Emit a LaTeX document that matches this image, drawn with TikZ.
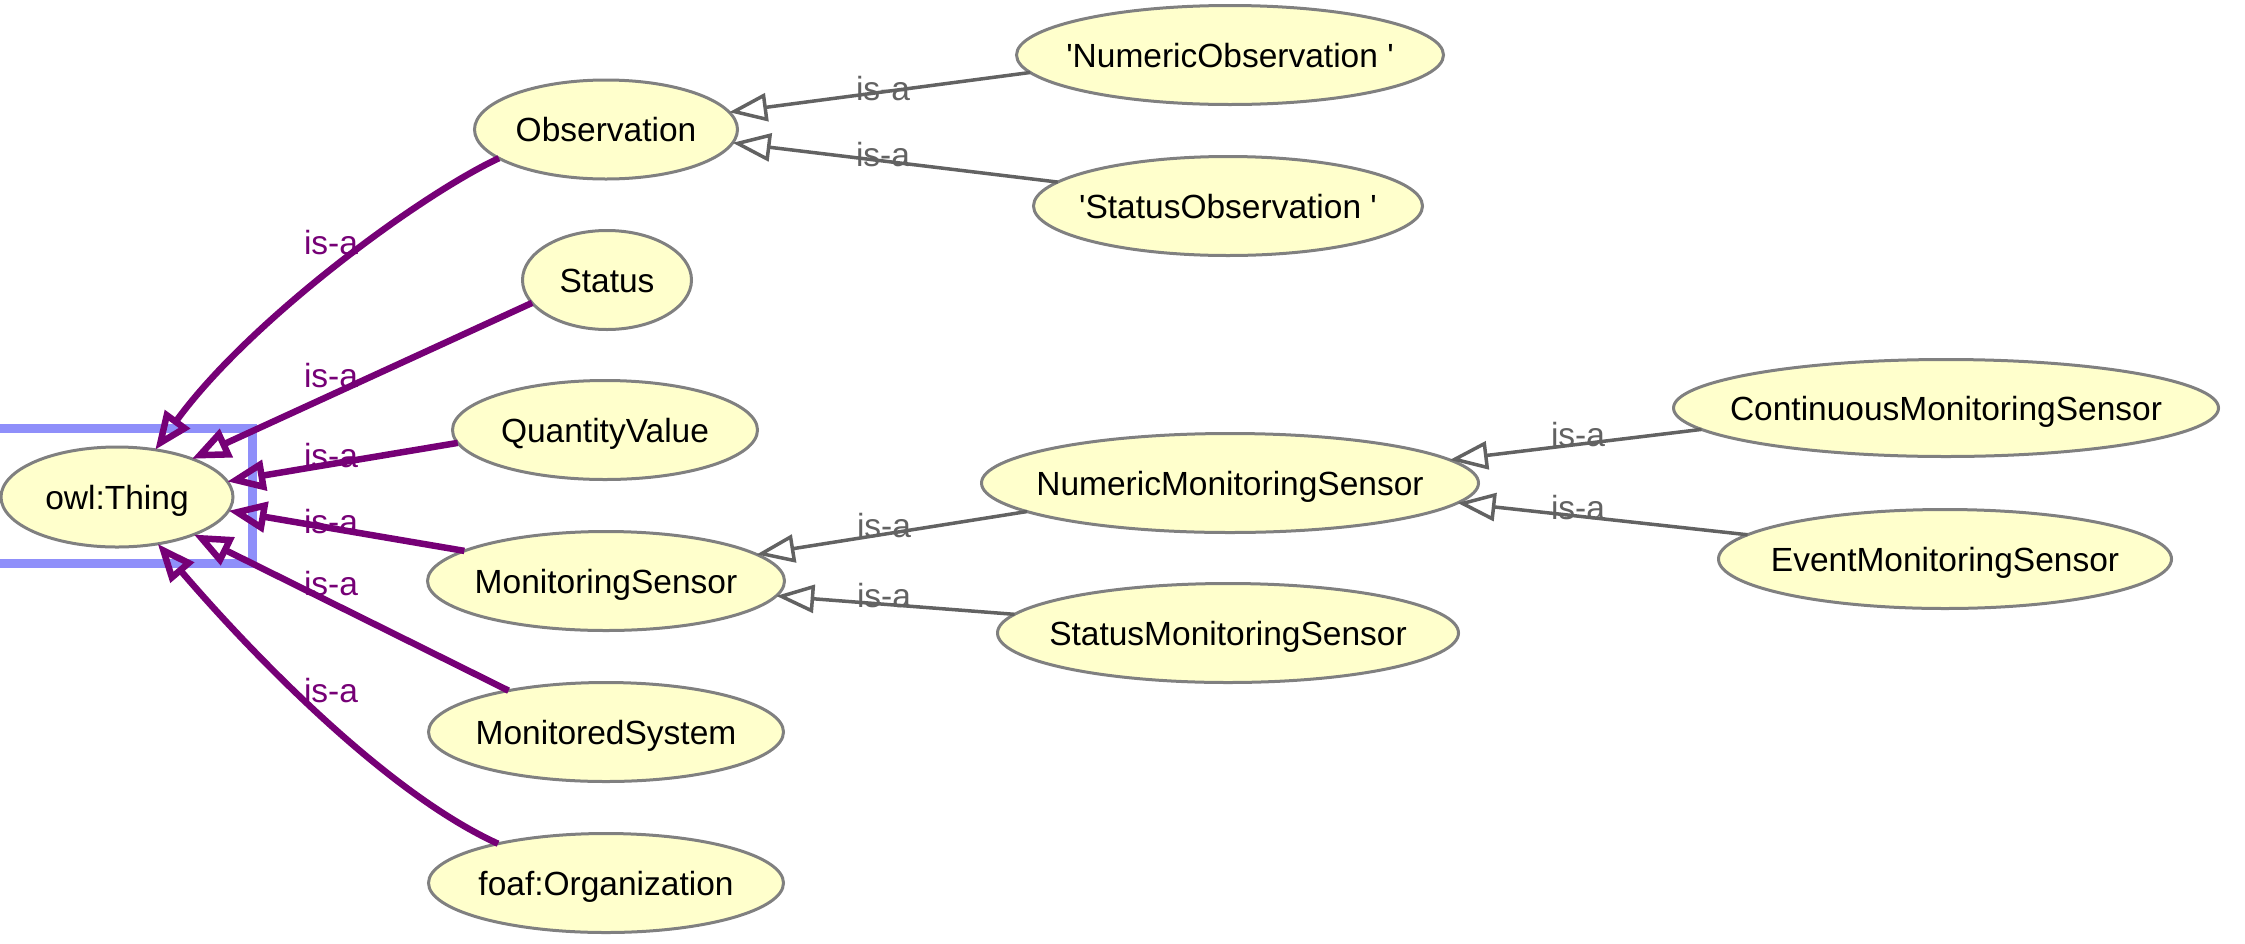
\documentclass[tikz,border=0pt]{standalone}
\usepackage{fontspec}
\setmainfont{Liberation Sans}[Ligatures=TeXOff]
\usetikzlibrary{shapes.geometric,arrows.meta}
\definecolor{isapurple}{RGB}{118,0,118}
\definecolor{edgegray}{RGB}{98,98,98}
\definecolor{nodefill}{RGB}{255,255,204}
\definecolor{nodeborder}{RGB}{128,128,128}
\definecolor{selblue}{RGB}{143,143,250}
\begin{document}
\begin{tikzpicture}[x=1pt,y=-1pt,
  cls/.style={ellipse, draw=nodeborder, fill=nodefill, line width=3pt, inner sep=0pt, outer sep=0pt,
    font=\fontsize{33.5}{40}\selectfont, text height=24pt, text depth=0pt, text=black},
  isaedge/.style={draw=isapurple, line width=6.5pt, -{Triangle[open, length=38pt, width=30pt]}},
  subedge/.style={draw=edgegray, line width=3.5pt, -{Triangle[open, length=38pt, width=28pt]}},
  isalbl/.style={font=\fontsize{33.5}{40}\selectfont, inner sep=0pt, text height=24pt, text depth=0pt, text=isapurple},
  sublbl/.style={isalbl, text=edgegray}]
\useasboundingbox (0,0) rectangle (2245,943);
\fill[white] (0,0) rectangle (2245,943);
% selection frame
\draw[selblue, line width=9pt] (-20,428.5) rectangle (252.5,563.5);
% nodes
\node[cls, minimum width=232pt, minimum height=100pt] (thing) at (117,497) {\makebox[0pt]{owl:Thing}};
\node[cls, minimum width=263pt, minimum height=99pt] (obs) at (606,129.5) {\makebox[0pt]{Observation}};
\node[cls, minimum width=169pt, minimum height=99pt] (status) at (607,280) {\makebox[0pt]{Status}};
\node[cls, minimum width=305pt, minimum height=99pt] (qv) at (605,430) {\makebox[0pt]{QuantityValue}};
\node[cls, minimum width=357pt, minimum height=99pt] (msensor) at (606,581) {\makebox[0pt]{MonitoringSensor}};
\node[cls, minimum width=355pt, minimum height=99pt] (msys) at (606,732) {\makebox[0pt]{MonitoredSystem}};
\node[cls, minimum width=355pt, minimum height=99pt] (foaf) at (606,883) {\makebox[0pt]{foaf:Organization}};
\node[cls, minimum width=427pt, minimum height=99pt] (numobs) at (1230,55) {\makebox[0pt]{'NumericObservation '}};
\node[cls, minimum width=389pt, minimum height=99pt] (statobs) at (1228,206) {\makebox[0pt]{'StatusObservation '}};
\node[cls, minimum width=497pt, minimum height=99pt] (nms) at (1230,483) {\makebox[0pt]{NumericMonitoringSensor}};
\node[cls, minimum width=461pt, minimum height=99pt] (sms) at (1228,633) {\makebox[0pt]{StatusMonitoringSensor}};
\node[cls, minimum width=545pt, minimum height=97pt] (cms) at (1946,408) {\makebox[0pt]{ContinuousMonitoringSensor}};
\node[cls, minimum width=453pt, minimum height=99pt] (ems) at (1945,559) {\makebox[0pt]{EventMonitoringSensor}};
% is-a edges to owl:Thing
\draw[isaedge] (obs.195.8) .. controls (420,195) and (250,320) .. (thing.51.3);
\draw[isaedge] (status.197.3) -- (thing.27.1);
\draw[isaedge] (qv.185.6) -- (thing.8.9);
\draw[isaedge] (msensor.168.5) -- (thing.-7.1);
\draw[isaedge] (msys.157.4) -- (thing.-26.6);
\draw[isaedge] (foaf.160.2) .. controls (380,790) and (240,640) .. (thing.-49.8);
% subclass edges
\draw[subedge] (numobs.185.9) -- (obs.8.7);
\draw[subedge] (statobs.172.6) -- (obs.-6.2);
\draw[subedge] (nms.188.5) -- (msensor.10.2);
\draw[subedge] (sms.175.9) -- (msensor.-5.4);
\draw[subedge] (cms.185.7) -- (nms.6.7);
\draw[subedge] (ems.173.5) -- (nms.-5.8);
% labels
\node[isalbl] (l1) at (331,242) {is-a};
\node[isalbl] (l2) at (331,375) {is-a};
\node[isalbl] (l3) at (331,455) {is-a};
\node[isalbl] (l4) at (331,521) {is-a};
\node[isalbl] (l5) at (331,583) {is-a};
\node[isalbl] (l6) at (331,690) {is-a};
\node[sublbl] (l7) at (883,88) {is-a};
\node[sublbl] (l8) at (883,154) {is-a};
\node[sublbl] (l9) at (884,525) {is-a};
\node[sublbl] (l10) at (884,595) {is-a};
\node[sublbl] (l11) at (1578,434) {is-a};
\node[sublbl] (l12) at (1578,507) {is-a};
\end{tikzpicture}
\end{document}
